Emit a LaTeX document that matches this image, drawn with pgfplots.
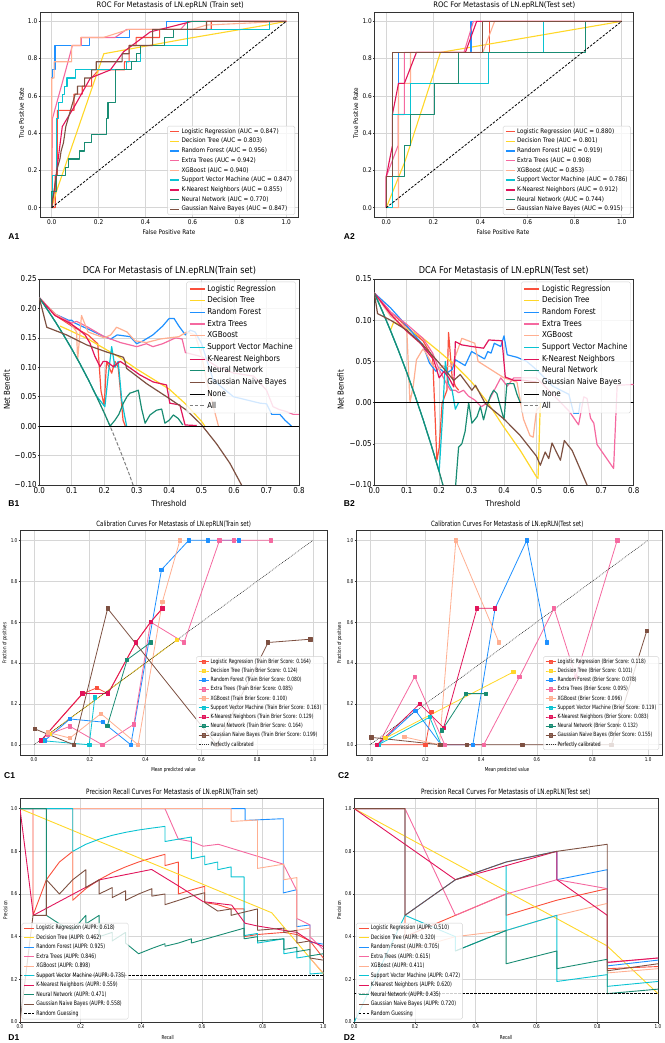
\documentclass[border=0pt]{standalone}
\usepackage{fontspec}
\usepackage{pgfplots}
\pgfplotsset{compat=1.18}
\newfontfamily\fA[FakeStretch=0.9]{DejaVu Sans}
\newfontfamily\fB[FakeStretch=0.87]{DejaVu Sans}
\newfontfamily\fC[FakeStretch=0.76]{DejaVu Sans}
\newfontfamily\fL{Liberation Sans}
\newcommand\tkA{\fA\fontsize{6.5}{7}\selectfont}
\newcommand\lgA{\fA\fontsize{6.3}{7}\selectfont}
\newcommand\tiA{\fA\fontsize{7.6}{8}\selectfont}
\newcommand\lbA{\fA\fontsize{6.3}{7}\selectfont}
\newcommand\tkB{\fB\fontsize{8.2}{9}\selectfont}
\newcommand\lgB{\fB\fontsize{8.2}{9}\selectfont}
\newcommand\tiB{\fB\fontsize{9.4}{10}\selectfont}
\newcommand\lbB{\fB\fontsize{8.1}{9}\selectfont}
\newcommand\tkC{\fC\fontsize{5.4}{6}\selectfont}
\newcommand\lgC{\fC\fontsize{5.85}{6}\selectfont}
\newcommand\lgD{\fC\fontsize{6.1}{6}\selectfont}
\newcommand\tiC{\fC\fontsize{7.2}{8}\selectfont}
\newcommand\tiD{\fC\fontsize{7.4}{8}\selectfont}
\newcommand\lbC{\fC\fontsize{5.4}{6}\selectfont}
\newcommand\pl{\fL\bfseries\fontsize{8.5}{9}\selectfont}
\definecolor{cLR}{RGB}{250,80,60}
\definecolor{cDT}{RGB}{255,215,40}
\definecolor{cRF}{RGB}{30,144,255}
\definecolor{cET}{RGB}{245,105,160}
\definecolor{cXGB}{RGB}{255,175,145}
\definecolor{cSVM}{RGB}{10,195,210}
\definecolor{cKNN}{RGB}{225,20,90}
\definecolor{cNN}{RGB}{25,140,115}
\definecolor{cGNB}{RGB}{125,80,65}
\pgfplotsset{
  mpl/.style={scale only axis, anchor=south west,
    axis line style={black!80,line width=0.5pt},
    grid=major, major grid style={black!16,line width=0.6pt},
    tick align=outside, major tick length=1.5pt, tick style={black!80,line width=0.45pt},
    xtick pos=left, ytick pos=left,
    xticklabel style={inner sep=0.8pt}, yticklabel style={inner sep=1pt},
    legend cell align=left,
    every axis plot/.append style={line join=round}},
  legA/.style={legend style={at={(1,0)},anchor=south east,xshift=-3pt,yshift=2pt,font=\lgA,
    draw=black!18,rounded corners=1.5pt,fill=white,fill opacity=0.8,text opacity=1,
    inner sep=2pt,row sep=2.6pt,column sep=1pt,nodes={inner sep=0.6pt,text height=4.6pt,text depth=1.3pt}},
    legend image code/.code={\draw[##1,line width=1.4pt] (0pt,0pt) -- (9pt,0pt);}},
  legB/.style={legend style={at={(1,1)},anchor=north east,xshift=-3pt,yshift=-2.7pt,font=\lgB,
    draw=black!18,rounded corners=1.5pt,fill=white,fill opacity=0.8,text opacity=1,
    inner sep=2.5pt,row sep=2.6pt,column sep=1.5pt,nodes={inner sep=0.6pt,text height=6.1pt,text depth=1.8pt}},
    legend image code/.code={\draw[##1] (0pt,0pt) -- (15pt,0pt);}},
  legC/.style={legend style={at={(1,0)},anchor=south east,xshift=-3pt,yshift=5pt,font=\lgC,
    draw=black!18,rounded corners=1.5pt,fill=white,fill opacity=0.8,text opacity=1,
    inner sep=2pt,row sep=2.8pt,column sep=1pt,nodes={inner sep=0.5pt,text height=4.2pt,text depth=1.2pt}},
    legend image code/.code={\draw[##1,mark repeat=2,mark phase=2] plot coordinates {(0pt,0pt) (5pt,0pt) (10pt,0pt)};}},
  legD/.style={legend style={at={(0,0)},anchor=south west,xshift=1.7pt,yshift=2.7pt,font=\lgD,
    draw=black!18,rounded corners=1.5pt,fill=white,fill opacity=0.8,text opacity=1,
    inner sep=2pt,row sep=3.1pt,column sep=1pt,nodes={inner sep=0.5pt,text height=4.2pt,text depth=1.2pt}},
    legend image code/.code={\draw[##1,line width=1.1pt] (0pt,0pt) -- (10pt,0pt);}},
}
\begin{document}
\begin{tikzpicture}[x=1pt,y=1pt]
\useasboundingbox (0,0) rectangle (664,1043);
% ================= A1 =================
\begin{axis}[mpl, at={(40pt,826pt)}, width=258pt, height=205pt,
  xmin=-0.05,xmax=1.05,ymin=-0.05,ymax=1.05,
  xtick={0,0.2,0.4,0.6,0.8,1}, xticklabels={0.0,0.2,0.4,0.6,0.8,1.0},
  ytick={0,0.2,0.4,0.6,0.8,1}, yticklabels={0.0,0.2,0.4,0.6,0.8,1.0},
  tick label style={font=\tkA}, legA, every axis plot/.append style={line width=1.1pt}]
\addplot[cLR] coordinates {(0,0)(0.015,0)(0.015,0.174)(0.024,0.174)(0.024,0.522)(0.095,0.522)(0.095,0.609)(0.13,0.609)(0.13,0.652)(0.17,0.652)(0.17,0.696)(0.2,0.739)(0.31,0.739)(0.31,0.783)(0.33,0.783)(0.33,0.87)(0.36,0.87)(0.36,0.913)(0.46,0.913)(0.46,0.957)(0.68,0.957)(0.68,1)(1,1)};
\addlegendentry{Logistic Regression (AUC = 0.847)}
\addplot[cDT] coordinates {(0,0)(0.02,0.087)(0.222,0.826)(0.576,0.907)(0.926,0.982)(1,1)};
\addlegendentry{Decision Tree (AUC = 0.803)}
\addplot[cRF] coordinates {(0,0)(0,0.696)(0.003,0.696)(0.003,0.739)(0.014,0.739)(0.014,0.87)(0.162,0.87)(0.162,0.913)(0.33,0.913)(0.33,0.957)(0.49,0.957)(0.49,1)(1,1)};
\addlegendentry{Random Forest (AUC = 0.956)}
\addplot[cET] coordinates {(0,0)(0.003,0.478)(0.041,0.652)(0.06,0.739)(0.088,0.87)(0.126,0.87)(0.126,0.913)(0.27,0.913)(0.32,0.957)(0.55,0.957)(0.58,1)(1,1)};
\addlegendentry{Extra Trees (AUC = 0.942)}
\addplot[cXGB] coordinates {(0,0)(0,0.696)(0.01,0.696)(0.01,0.783)(0.085,0.783)(0.085,0.87)(0.123,0.87)(0.123,0.913)(0.22,0.913)(0.33,0.957)(0.6,0.957)(0.66,0.98)(1,1)};
\addlegendentry{XGBoost (AUC = 0.940)}
\addplot[cSVM] coordinates {(0,0)(0.003,0)(0.003,0.174)(0.02,0.174)(0.02,0.478)(0.03,0.478)(0.03,0.565)(0.045,0.565)(0.045,0.609)(0.055,0.609)(0.055,0.652)(0.065,0.652)(0.065,0.696)(0.1,0.696)(0.1,0.739)(0.32,0.739)(0.32,0.783)(0.38,0.783)(0.38,0.87)(0.58,0.87)(0.58,0.957)(0.93,0.957)(0.93,1)(1,1)};
\addlegendentry{Support Vector Machine (AUC = 0.847)}
\addplot[cKNN] coordinates {(0,0)(0.01,0.087)(0.045,0.435)(0.1,0.55)(0.165,0.696)(0.25,0.739)(0.306,0.836)(0.42,0.943)(0.6,1)(1,1)};
\addlegendentry{K-Nearest Neighbors (AUC = 0.855)}
\addplot[cNN] coordinates {(0,0)(0,0.087)(0.02,0.087)(0.02,0.174)(0.06,0.174)(0.06,0.217)(0.07,0.217)(0.07,0.261)(0.12,0.261)(0.12,0.304)(0.14,0.304)(0.14,0.348)(0.17,0.348)(0.17,0.391)(0.235,0.391)(0.235,0.478)(0.24,0.478)(0.24,0.565)(0.27,0.565)(0.27,0.739)(0.34,0.739)(0.34,0.783)(0.36,0.783)(0.36,0.826)(0.38,0.826)(0.38,0.87)(0.48,0.87)(0.48,0.913)(0.52,0.913)(0.52,0.957)(0.58,0.957)(0.58,1)(1,1)};
\addlegendentry{Neural Network (AUC = 0.770)}
\addplot[cGNB] coordinates {(0,0)(0.003,0.043)(0.01,0.087)(0.02,0.174)(0.025,0.217)(0.035,0.261)(0.04,0.304)(0.05,0.348)(0.055,0.391)(0.06,0.435)(0.07,0.478)(0.08,0.522)(0.09,0.565)(0.1,0.609)(0.11,0.609)(0.11,0.652)(0.14,0.652)(0.14,0.696)(0.17,0.696)(0.17,0.739)(0.19,0.739)(0.19,0.783)(0.3,0.783)(0.3,0.826)(0.33,0.826)(0.33,0.87)(0.43,0.87)(0.43,0.957)(0.66,0.957)(0.66,1)(1,1)};
\addlegendentry{Gaussian Naive Bayes (AUC = 0.847)}
\addplot[black,line width=0.8pt,dash pattern=on 2.5pt off 1.5pt] coordinates {(0,0)(1,1)};
\end{axis}
% ================= A2 =================
\begin{axis}[mpl, at={(374.5pt,826pt)}, width=259pt, height=205pt,
  xmin=-0.05,xmax=1.05,ymin=-0.05,ymax=1.05,
  xtick={0,0.2,0.4,0.6,0.8,1}, xticklabels={0.0,0.2,0.4,0.6,0.8,1.0},
  ytick={0,0.2,0.4,0.6,0.8,1}, yticklabels={0.0,0.2,0.4,0.6,0.8,1.0},
  tick label style={font=\tkA}, legA, every axis plot/.append style={line width=1.1pt}]
\addplot[cLR] coordinates {(0,0)(0,0.167)(0.026,0.167)(0.026,0.833)(0.438,0.833)(0.438,1)(1,1)};
\addlegendentry{Logistic Regression (AUC = 0.880)}
\addplot[cDT] coordinates {(0,0)(0.08,0.25)(0.23,0.833)(1,1)};
\addlegendentry{Decision Tree (AUC = 0.801)}
\addplot[cRF] coordinates {(0,0)(0,0.167)(0.026,0.167)(0.026,0.5)(0.052,0.5)(0.052,0.833)(0.36,0.833)(0.36,1)(1,1)};
\addlegendentry{Random Forest (AUC = 0.919)}
\addplot[cET] coordinates {(0,0)(0,0.167)(0.05,0.333)(0.05,0.5)(0.077,0.5)(0.077,0.833)(0.33,0.833)(0.37,1)(1,1)};
\addlegendentry{Extra Trees (AUC = 0.908)}
\addplot[cXGB] coordinates {(0,0)(0.052,0)(0.052,0.667)(0.103,0.667)(0.103,0.833)(0.41,0.833)(0.46,1)(1,1)};
\addlegendentry{XGBoost (AUC = 0.853)}
\addplot[cSVM] coordinates {(0,0)(0.026,0)(0.026,0.5)(0.103,0.5)(0.103,0.667)(0.436,0.667)(0.436,0.833)(0.667,0.833)(0.667,1)(1,1)};
\addlegendentry{Support Vector Machine (AUC = 0.786)}
\addplot[cKNN] coordinates {(0,0)(0,0.167)(0.026,0.333)(0.026,0.5)(0.052,0.667)(0.077,0.667)(0.128,0.833)(0.336,0.833)(0.384,1)(1,1)};
\addlegendentry{K-Nearest Neighbors (AUC = 0.912)}
\addplot[cNN] coordinates {(0,0)(0,0.167)(0.077,0.167)(0.077,0.333)(0.103,0.333)(0.103,0.5)(0.205,0.5)(0.205,0.667)(0.308,0.667)(0.308,0.833)(0.846,0.833)(0.846,1)(1,1)};
\addlegendentry{Neural Network (AUC = 0.744)}
\addplot[cGNB] coordinates {(0,0)(0,0.167)(0.026,0.167)(0.026,0.833)(0.41,0.833)(0.41,1)(1,1)};
\addlegendentry{Gaussian Naive Bayes (AUC = 0.915)}
\addplot[black,line width=0.8pt,dash pattern=on 2.5pt off 1.5pt] coordinates {(0,0)(1,1)};
\end{axis}
% ================= B1 =================
\begin{axis}[mpl, at={(39.3pt,558pt)}, width=259.7pt, height=206pt,
  xmin=0,xmax=0.8,ymin=-0.1,ymax=0.25,
  xtick={0,0.1,0.2,0.3,0.4,0.5,0.6,0.7,0.8}, xticklabels={0.0,0.1,0.2,0.3,0.4,0.5,0.6,0.7,0.8},
  ytick={-0.1,-0.05,0,0.05,0.1,0.15,0.2,0.25}, yticklabels={−0.10,−0.05,0.00,0.05,0.10,0.15,0.20,0.25},
  tick label style={font=\tkB}, legB, every axis plot/.append style={line width=1.2pt}]
\addplot[forget plot,gray,line width=1pt,dash pattern=on 3.5pt off 1.8pt] coordinates {(0,0.218)(0.025,0.198)(0.05,0.1768)(0.075,0.1546)(0.1,0.1311)(0.125,0.1063)(0.15,0.080)(0.175,0.0521)(0.2,0.0225)(0.225,-0.009)(0.25,-0.0427)(0.275,-0.0786)(0.3,-0.117)};
\addplot[cLR] coordinates {(0,0.218)(0.05,0.188)(0.1,0.17)(0.15,0.155)(0.18,0.14)(0.19,0.06)(0.2,0.035)(0.207,0.109)(0.215,0.1)(0.223,0.09)(0.233,0.11)(0.243,0.1)(0.25,0.06)(0.258,0.01)(0.265,0.0)};
\addlegendentry{Logistic Regression}
\addplot[cDT] coordinates {(0.064,0.17)(0.1,0.161)(0.15,0.148)(0.2,0.132)(0.25,0.116)(0.3,0.097)(0.35,0.08)(0.4,0.063)(0.45,0.038)(0.5,0.008)(0.51,0.0)};
\addlegendentry{Decision Tree}
\addplot[cRF] coordinates {(0,0.218)(0.05,0.19)(0.09,0.18)(0.1,0.18)(0.11,0.175)(0.15,0.165)(0.2,0.152)(0.22,0.148)(0.24,0.155)(0.28,0.152)(0.3,0.14)(0.32,0.145)(0.35,0.155)(0.38,0.17)(0.4,0.183)(0.415,0.183)(0.43,0.17)(0.45,0.155)(0.465,0.163)(0.48,0.16)(0.5,0.14)(0.536,0.078)(0.598,0.05)(0.68,0.039)(0.7,0.038)(0.716,0.02)(0.741,0.02)(0.757,0.01)(0.777,0.0)};
\addlegendentry{Random Forest}
\addplot[cET] coordinates {(0,0.218)(0.05,0.19)(0.1,0.175)(0.115,0.178)(0.15,0.168)(0.2,0.152)(0.25,0.142)(0.3,0.135)(0.33,0.14)(0.35,0.135)(0.38,0.14)(0.4,0.145)(0.42,0.15)(0.44,0.148)(0.45,0.125)(0.5,0.118)(0.55,0.1)(0.6,0.09)(0.66,0.085)(0.7,0.061)(0.72,0.033)(0.74,0.028)(0.76,0.025)(0.782,0.02)(0.8,0.02)};
\addlegendentry{Extra Trees}
\addplot[cXGB] coordinates {(0,0.218)(0.05,0.19)(0.1,0.172)(0.115,0.16)(0.118,0.112)(0.13,0.188)(0.15,0.16)(0.2,0.15)(0.22,0.155)(0.238,0.168)(0.25,0.165)(0.27,0.16)(0.295,0.145)(0.33,0.142)(0.372,0.148)(0.4,0.15)(0.43,0.152)(0.454,0.16)(0.48,0.155)(0.5,0.12)(0.516,0.075)(0.552,0.0)};
\addlegendentry{XGBoost}
\addplot[cSVM] coordinates {(0,0.218)(0.025,0.198)(0.05,0.1768)(0.075,0.1546)(0.1,0.1311)(0.125,0.1063)(0.15,0.080)(0.175,0.0521)(0.202,0.033)(0.213,0.09)(0.223,0.135)(0.233,0.1)(0.243,0.11)(0.254,0.044)(0.262,0.02)(0.269,0.0)};
\addlegendentry{Support Vector Machine}
\addplot[cKNN] coordinates {(0,0.218)(0.048,0.188)(0.094,0.175)(0.12,0.165)(0.141,0.155)(0.156,0.141)(0.171,0.119)(0.187,0.101)(0.197,0.11)(0.207,0.11)(0.228,0.101)(0.249,0.11)(0.274,0.101)(0.31,0.087)(0.351,0.075)(0.392,0.07)(0.402,0.039)(0.433,0.036)(0.449,0.002)(0.485,0.001)};
\addlegendentry{K-Nearest Neighbors}
\addplot[cNN] coordinates {(0,0.218)(0.025,0.198)(0.05,0.1768)(0.075,0.1546)(0.1,0.1311)(0.125,0.1063)(0.15,0.080)(0.175,0.0521)(0.2,0.0225)(0.218,0.0)(0.233,0.01)(0.245,0.02)(0.259,0.039)(0.27,0.05)(0.279,0.056)(0.29,0.058)(0.305,0.061)(0.315,0.03)(0.326,0.005)(0.341,0.019)(0.361,0.027)(0.377,0.029)(0.387,0.005)(0.4,0.01)(0.413,0.019)(0.428,0.013)(0.442,0.002)};
\addlegendentry{Neural Network}
\addplot[cGNB] coordinates {(0,0.218)(0.023,0.168)(0.084,0.155)(0.146,0.138)(0.207,0.126)(0.259,0.117)(0.264,0.11)(0.269,0.098)(0.331,0.072)(0.392,0.05)(0.454,0.027)(0.5,0.002)(0.546,-0.03)(0.587,-0.063)(0.623,-0.1)(0.63,-0.107)};
\addlegendentry{Gaussian Naive Bayes}
\addplot[black,line width=1.2pt] coordinates {(0,0)(0.8,0)};
\addlegendentry{None}
\addlegendimage{gray,line width=1pt,dash pattern=on 3.5pt off 1.8pt}
\addlegendentry{All}
\end{axis}
% ================= B2 =================
\begin{axis}[mpl, at={(374.3pt,558pt)}, width=259.4pt, height=206pt,
  xmin=0,xmax=0.8,ymin=-0.1,ymax=0.15,
  xtick={0,0.1,0.2,0.3,0.4,0.5,0.6,0.7,0.8}, xticklabels={0.0,0.1,0.2,0.3,0.4,0.5,0.6,0.7,0.8},
  ytick={-0.1,-0.05,0,0.05,0.1,0.15}, yticklabels={−0.10,−0.05,0.00,0.05,0.10,0.15},
  tick label style={font=\tkB}, legB, every axis plot/.append style={line width=1.2pt}]
\addplot[forget plot,gray,line width=1pt,dash pattern=on 3.5pt off 1.8pt] coordinates {(0,0.133)(0.025,0.1108)(0.05,0.0874)(0.075,0.0627)(0.1,0.0367)(0.125,0.0091)(0.15,-0.020)(0.175,-0.0509)(0.2,-0.0838)(0.225,-0.1187)};
\addplot[cLR] coordinates {(0,0.133)(0.05,0.11)(0.1,0.092)(0.15,0.075)(0.18,0.055)(0.193,-0.07)(0.2,-0.055)(0.209,-0.001)(0.224,0.015)(0.229,0.085)(0.24,0.031)(0.25,0.02)(0.26,0.015)};
\addlegendentry{Logistic Regression}
\addplot[cDT] coordinates {(0.05,0.088)(0.06,0.098)(0.1,0.09)(0.15,0.078)(0.2,0.062)(0.25,0.045)(0.3,0.025)(0.35,0.0)(0.4,-0.03)(0.45,-0.058)(0.5,-0.09)(0.505,-0.092)(0.512,0.0)};
\addlegendentry{Decision Tree}
\addplot[cRF] coordinates {(0,0.133)(0.05,0.115)(0.1,0.093)(0.15,0.07)(0.17,0.048)(0.19,0.038)(0.2,0.042)(0.22,0.035)(0.24,0.04)(0.25,0.052)(0.28,0.045)(0.3,0.062)(0.34,0.053)(0.35,0.062)(0.36,0.06)(0.37,0.072)(0.39,0.068)(0.4,0.081)(0.41,0.058)(0.44,0.055)(0.47,0.05)(0.5,0.04)(0.55,0.02)(0.6,0.01)(0.615,-0.013)(0.63,-0.013)(0.635,0.0)};
\addlegendentry{Random Forest}
\addplot[cET] coordinates {(0,0.133)(0.05,0.11)(0.1,0.095)(0.15,0.078)(0.18,0.06)(0.2,0.04)(0.22,0.025)(0.235,0.015)(0.25,0.015)(0.26,0.012)(0.275,0.015)(0.29,0.008)(0.31,0.003)(0.33,-0.005)(0.35,0.0)(0.37,0.015)(0.39,0.03)(0.41,0.02)(0.43,0.03)(0.5,0.03)(0.55,0.01)(0.6,-0.01)(0.63,-0.027)(0.646,0.007)(0.656,0.005)(0.667,-0.019)(0.677,-0.025)(0.687,-0.051)(0.738,-0.08)(0.749,0.021)(0.8,0.022)};
\addlegendentry{Extra Trees}
\addplot[cXGB] coordinates {(0,0.133)(0.05,0.105)(0.1,0.09)(0.11,0.0)(0.12,0.02)(0.13,0.052)(0.15,0.065)(0.16,0.06)(0.18,0.045)(0.2,0.04)(0.21,0.045)(0.22,0.043)(0.24,0.045)(0.27,0.078)(0.31,0.072)(0.32,0.05)(0.4,0.03)(0.44,0.025)(0.46,-0.02)(0.47,-0.03)(0.48,-0.04)(0.49,-0.042)(0.5,-0.01)(0.51,-0.005)};
\addlegendentry{XGBoost}
\addplot[cSVM] coordinates {(0,0.133)(0.025,0.1108)(0.05,0.0874)(0.075,0.0627)(0.1,0.0367)(0.125,0.0091)(0.15,-0.020)(0.175,-0.0509)(0.2,-0.0838)(0.21,-0.02)(0.219,0.05)(0.229,0.023)(0.24,0.015)(0.25,-0.008)(0.26,0.0)};
\addlegendentry{Support Vector Machine}
\addplot[cKNN] coordinates {(0,0.133)(0.049,0.108)(0.096,0.088)(0.142,0.072)(0.183,0.052)(0.2,0.03)(0.215,0.038)(0.23,0.03)(0.245,0.019)(0.25,0.074)(0.27,0.07)(0.301,0.068)(0.337,0.066)(0.353,0.076)(0.394,0.075)(0.404,0.031)(0.43,0.027)(0.46,0.027)(0.5,0.025)};
\addlegendentry{K-Nearest Neighbors}
\addplot[cNN] coordinates {(0,0.133)(0.025,0.1108)(0.05,0.0874)(0.075,0.0627)(0.1,0.0367)(0.125,0.0091)(0.15,-0.020)(0.175,-0.0509)(0.2,-0.0838)(0.225,-0.1187)(0.245,-0.13)(0.26,-0.054)(0.27,-0.05)(0.28,-0.035)(0.291,0.0)(0.301,-0.025)(0.317,-0.017)(0.327,-0.005)(0.337,-0.021)(0.347,-0.005)(0.358,0.008)(0.368,0.015)(0.378,0.011)(0.389,-0.005)(0.4,-0.021)(0.409,0.023)(0.43,0.023)(0.44,0.01)(0.45,0.0)};
\addlegendentry{Neural Network}
\addplot[cGNB] coordinates {(0,0.133)(0.01,0.108)(0.05,0.1)(0.1,0.088)(0.15,0.07)(0.2,0.048)(0.245,0.027)(0.265,0.034)(0.301,0.015)(0.312,0.021)(0.342,-0.001)(0.4,-0.02)(0.45,-0.04)(0.5,-0.065)(0.512,-0.076)(0.527,-0.06)(0.538,-0.068)(0.548,-0.049)(0.574,-0.07)(0.586,-0.046)(0.61,-0.058)(0.656,-0.1)(0.66,-0.104)};
\addlegendentry{Gaussian Naive Bayes}
\addplot[black,line width=1.2pt] coordinates {(0,0)(0.8,0)};
\addlegendentry{None}
\addlegendimage{gray,line width=1pt,dash pattern=on 3.5pt off 1.8pt}
\addlegendentry{All}
\end{axis}
% ================= C1 =================
\begin{axis}[mpl, at={(20pt,288pt)}, width=307pt, height=225pt,
  xmin=-0.05,xmax=1.05,ymin=-0.05,ymax=1.05,
  xtick={0,0.2,0.4,0.6,0.8,1}, xticklabels={0.0,0.2,0.4,0.6,0.8,1.0},
  ytick={0,0.2,0.4,0.6,0.8,1}, yticklabels={0.0,0.2,0.4,0.6,0.8,1.0},
  tick label style={font=\tkC}, legC,
  every axis plot/.append style={line width=0.8pt,mark=square*,mark size=1.7pt,mark options={solid}}]
\addplot[cLR] coordinates {(0.025,0.02)(0.175,0.25)(0.225,0.278)(0.265,0.25)(0.365,0.5)(0.418,0.6)(0.46,0.667)};
\addlegendentry{Logistic Regression (Train Brier Score: 0.164)}
\addplot[cDT] coordinates {(0.055,0.054)(0.512,0.512)};
\addlegendentry{Decision Tree (Train Brier Score: 0.124)}
\addplot[cRF] coordinates {(0.039,0.021)(0.129,0.126)(0.246,0.111)(0.347,0.0)(0.457,0.856)(0.555,1.0)(0.624,1.0)(0.734,1.0)};
\addlegendentry{Random Forest (Train Brier Score: 0.080)}
\addplot[cET] coordinates {(0.05,0.05)(0.129,0.09)(0.245,0.0)(0.358,0.1)(0.418,0.6)(0.538,0.5)(0.665,1.0)(0.717,1.0)(0.848,1.0)};
\addlegendentry{Extra Trees (Train Brier Score: 0.085)}
\addplot[cXGB] coordinates {(0.05,0.06)(0.129,0.033)(0.24,0.152)(0.373,0.0)(0.46,0.698)(0.523,1.0)};
\addlegendentry{XGBoost (Train Brier Score: 0.100)}
\addplot[cSVM] coordinates {(0.03,0.02)(0.198,0.0)(0.218,0.232)};
\addlegendentry{Support Vector Machine (Train Brier Score: 0.163)}
\addplot[cKNN] coordinates {(0.025,0.021)(0.174,0.251)(0.266,0.251)(0.365,0.5)(0.418,0.6)(0.46,0.666)};
\addlegendentry{K-Nearest Neighbors (Train Brier Score: 0.129)}
\addplot[cNN] coordinates {(0.263,0.093)(0.334,0.416)(0.418,0.5)};
\addlegendentry{Neural Network (Train Brier Score: 0.164)}
\addplot[cGNB] coordinates {(0.004,0.077)(0.143,0.0)(0.264,0.666)(0.655,0.0)(0.839,0.5)(0.99,0.516)};
\addlegendentry{Gaussian Naive Bayes (Train Brier Score: 0.199)}
\addplot[black!80,no marks,line width=0.6pt,dash pattern=on 0.8pt off 1pt] coordinates {(0,0)(1,1)};
\addlegendentry{Perfectly calibrated}
\end{axis}
% ================= C2 =================
\begin{axis}[mpl, at={(356pt,288pt)}, width=306pt, height=225pt,
  xmin=-0.05,xmax=1.05,ymin=-0.05,ymax=1.05,
  xtick={0,0.2,0.4,0.6,0.8,1}, xticklabels={0.0,0.2,0.4,0.6,0.8,1.0},
  ytick={0,0.2,0.4,0.6,0.8,1}, yticklabels={0.0,0.2,0.4,0.6,0.8,1.0},
  tick label style={font=\tkC}, legC,
  every axis plot/.append style={line width=0.8pt,mark=square*,mark size=1.7pt,mark options={solid}}]
\addplot[cLR] coordinates {(0.03,0.0)(0.2,0.0)(0.221,0.16)};
\addlegendentry{Logistic Regression (Brier Score: 0.118)}
\addplot[cDT] coordinates {(0.056,0.033)(0.516,0.356)};
\addlegendentry{Decision Tree (Brier Score: 0.101)}
\addplot[cRF] coordinates {(0.03,0.0)(0.164,0.167)(0.256,0.0)(0.37,0.0)(0.45,0.667)(0.564,1.0)(0.636,0.5)};
\addlegendentry{Random Forest (Brier Score: 0.078)}
\addplot[cET] coordinates {(0.03,0.0)(0.161,0.333)(0.269,0.0)(0.409,0.0)(0.538,0.333)(0.662,0.667)(0.74,0.333)(0.889,1.0)};
\addlegendentry{Extra Trees (Brier Score: 0.095)}
\addplot[cXGB] coordinates {(0.124,0.038)(0.25,0.0)(0.309,1.0)(0.464,0.5)};
\addlegendentry{XGBoost (Brier Score: 0.096)}
\addplot[cSVM] coordinates {(0.03,0.0)(0.215,0.135)(0.256,0.0)};
\addlegendentry{Support Vector Machine (Brier Score: 0.119)}
\addplot[cKNN] coordinates {(0.026,0.0)(0.179,0.2)(0.265,0.083)(0.385,0.667)(0.45,0.667)};
\addlegendentry{K-Nearest Neighbors (Brier Score: 0.083)}
\addplot[cNN] coordinates {(0.259,0.07)(0.345,0.25)(0.417,0.25)};
\addlegendentry{Neural Network (Brier Score: 0.132)}
\addplot[cGNB] coordinates {(0.006,0.036)(0.253,0.0)(0.349,0.0)(0.548,0.0)(0.868,0.0)(0.995,0.556)};
\addlegendentry{Gaussian Naive Bayes (Brier Score: 0.155)}
\addplot[black!80,no marks,line width=0.6pt,dash pattern=on 0.8pt off 1pt] coordinates {(0,0)(1,1)};
\addlegendentry{Perfectly calibrated}
\end{axis}
% ================= D1 =================
\begin{axis}[mpl, at={(20pt,21pt)}, width=303.3pt, height=224pt,
  xmin=0,xmax=1,ymin=0,ymax=1.05,
  xtick={0,0.2,0.4,0.6,0.8,1}, xticklabels={0.0,0.2,0.4,0.6,0.8,1.0},
  ytick={0,0.2,0.4,0.6,0.8,1}, yticklabels={0.0,0.2,0.4,0.6,0.8,1.0},
  tick label style={font=\tkC}, legD, every axis plot/.append style={line width=0.9pt}]
\addplot[cLR] coordinates {(0,1)(0.043,1)(0.043,0.5)(0.087,0.667)(0.13,0.75)(0.174,0.8)(0.174,0.571)(0.217,0.625)(0.261,0.667)(0.304,0.7)(0.348,0.727)(0.391,0.75)(0.435,0.769)(0.478,0.786)(0.478,0.733)(0.522,0.75)(0.522,0.6)(0.565,0.619)(0.609,0.636)(0.609,0.56)(0.652,0.55)(0.696,0.53)(0.739,0.53)(0.739,0.4)(0.783,0.41)(0.87,0.42)(0.913,0.41)(0.956,0.38)(1,0.3)};
\addlegendentry{Logistic Regression (AUPR: 0.618)}
\addplot[cDT] coordinates {(0,1)(0.83,0.512)(1,0.226)};
\addlegendentry{Decision Tree (AUPR: 0.462)}
\addplot[cRF] coordinates {(0,1)(0.742,1)(0.742,0.945)(0.868,0.953)(0.868,0.605)(0.912,0.62)(0.912,0.447)(0.956,0.455)(0.956,0.375)(1,0.365)};
\addlegendentry{Random Forest (AUPR: 0.925)}
\addplot[cET] coordinates {(0,1)(0.478,1)(0.522,0.857)(0.565,0.846)(0.604,0.824)(0.654,0.833)(0.868,0.74)(0.912,0.618)(0.912,0.486)(0.956,0.455)(0.956,0.4)(1,0.34)};
\addlegendentry{Extra Trees (AUPR: 0.846)}
\addplot[cXGB] coordinates {(0,1)(0.174,1)(0.174,0.57)(0.174,1)(0.696,1)(0.696,0.94)(0.783,0.947)(0.783,0.72)(0.87,0.74)(0.87,0.667)(0.913,0.677)(0.913,0.43)(0.956,0.44)(0.956,0.3)(1,0.23)};
\addlegendentry{XGBoost (AUPR: 0.898)}
\addplot[cSVM] coordinates {(0,1)(0.174,1)(0.174,0.8)(0.217,0.833)(0.261,0.857)(0.304,0.875)(0.348,0.889)(0.391,0.9)(0.435,0.909)(0.478,0.917)(0.478,0.846)(0.522,0.857)(0.565,0.867)(0.565,0.765)(0.609,0.778)(0.609,0.737)(0.652,0.75)(0.652,0.714)(0.696,0.727)(0.696,0.68)(0.739,0.68)(0.739,0.405)(0.783,0.415)(0.783,0.37)(0.826,0.38)(0.87,0.39)(0.87,0.32)(0.913,0.33)(0.913,0.3)(0.956,0.31)(0.956,0.225)(1,0.23)};
\addlegendentry{Support Vector Machine (AUPR: 0.735)}
\addplot[cKNN] coordinates {(0,1)(0.044,0.5)(0.264,0.667)(0.434,0.715)(0.527,0.634)(0.604,0.564)(0.652,0.556)(0.698,0.548)(0.742,0.463)(0.783,0.45)(0.87,0.43)(0.913,0.42)(0.956,0.38)(1,0.354)};
\addlegendentry{K-Nearest Neighbors (AUPR: 0.559)}
\addplot[cNN] coordinates {(0,1)(0.087,1)(0.087,0.5)(0.13,0.46)(0.174,0.43)(0.217,0.5)(0.217,0.46)(0.261,0.5)(0.261,0.4)(0.304,0.42)(0.304,0.38)(0.348,0.42)(0.348,0.37)(0.391,0.32)(0.435,0.345)(0.478,0.367)(0.478,0.355)(0.522,0.37)(0.565,0.39)(0.565,0.37)(0.652,0.405)(0.739,0.44)(0.739,0.39)(0.783,0.4)(0.783,0.38)(0.87,0.39)(0.87,0.34)(0.913,0.35)(0.913,0.33)(0.956,0.34)(0.956,0.31)(1,0.32)};
\addlegendentry{Neural Network (AUPR: 0.471)}
\addplot[cGNB] coordinates {(0,0)(0.043,0.5)(0.087,0.5)(0.087,0.667)(0.13,0.6)(0.174,0.667)(0.217,0.714)(0.217,0.63)(0.261,0.667)(0.261,0.6)(0.304,0.63)(0.304,0.583)(0.348,0.615)(0.348,0.57)(0.391,0.6)(0.435,0.625)(0.435,0.59)(0.478,0.6)(0.478,0.55)(0.522,0.57)(0.565,0.59)(0.609,0.606)(0.609,0.56)(0.652,0.52)(0.696,0.53)(0.696,0.5)(0.739,0.515)(0.783,0.53)(0.783,0.43)(0.87,0.44)(0.87,0.42)(0.913,0.43)(0.913,0.37)(0.956,0.38)(0.956,0.3)(1,0.29)};
\addlegendentry{Gaussian Naive Bayes (AUPR: 0.558)}
\addplot[black,line width=0.8pt,dash pattern=on 2.5pt off 1.5pt] coordinates {(0,0.22)(1,0.22)};
\addlegendentry{Random Guessing}
\end{axis}
% ================= D2 =================
\begin{axis}[mpl, at={(354.3pt,21pt)}, width=303.7pt, height=224pt,
  xmin=0,xmax=1,ymin=0,ymax=1.05,
  xtick={0,0.2,0.4,0.6,0.8,1}, xticklabels={0.0,0.2,0.4,0.6,0.8,1.0},
  ytick={0,0.2,0.4,0.6,0.8,1}, yticklabels={0.0,0.2,0.4,0.6,0.8,1.0},
  tick label style={font=\tkC}, legD, every axis plot/.append style={line width=0.9pt}]
\addplot[cLR] coordinates {(0,1)(0.167,1)(0.167,0.4)(0.333,0.5)(0.5,0.6)(0.5,0.5)(0.667,0.571)(0.833,0.625)(0.833,0.25)(1,0.26)};
\addlegendentry{Logistic Regression (AUPR: 0.510)}
\addplot[cDT] coordinates {(0,1)(0.832,0.357)(1,0.133)};
\addlegendentry{Decision Tree (AUPR: 0.320)}
\addplot[cRF] coordinates {(0,1)(0.167,1)(0.167,0.5)(0.333,0.667)(0.5,0.75)(0.667,0.8)(0.667,0.667)(0.833,0.714)(0.833,0.263)(1,0.29)};
\addlegendentry{Random Forest (AUPR: 0.705)}
\addplot[cET] coordinates {(0,1)(0.167,1)(0.333,0.5)(0.5,0.6)(0.667,0.667)(0.833,0.625)(0.833,0.278)(1,0.3)};
\addlegendentry{Extra Trees (AUPR: 0.615)}
\addplot[cXGB] coordinates {(0,1)(0.167,1)(0.167,0.333)(0.333,0.4)(0.5,0.429)(0.667,0.5)(0.833,0.556)(0.833,0.23)(1,0.25)};
\addlegendentry{XGBoost (AUPR: 0.411)}
\addplot[cSVM] coordinates {(0,0)(0.167,0.5)(0.333,0.4)(0.333,0.333)(0.5,0.429)(0.5,0.733)(0.5,0.429)(0.667,0.5)(0.667,0.19)(0.833,0.222)(0.833,0.167)(1,0.19)};
\addlegendentry{Support Vector Machine (AUPR: 0.472)}
\addplot[cKNN] coordinates {(0,1)(0.333,0.667)(0.5,0.733)(0.667,0.8)(0.667,0.667)(0.833,0.5)(0.833,0.28)(1,0.3)};
\addlegendentry{K-Nearest Neighbors (AUPR: 0.620)}
\addplot[cNN] coordinates {(0.333,0.333)(0.5,0.429)(0.5,0.273)(0.667,0.333)(0.667,0.25)(0.833,0.294)(0.833,0.133)(1,0.154)};
\addlegendentry{Neural Network (AUPR: 0.435)}
\addplot[cGNB] coordinates {(0,1)(0.167,1)(0.167,0.5)(0.333,0.667)(0.5,0.75)(0.667,0.8)(0.833,0.833)(0.833,0.24)(1,0.273)};
\addlegendentry{Gaussian Naive Bayes (AUPR: 0.720)}
\addplot[black,line width=0.8pt,dash pattern=on 2.5pt off 1.5pt] coordinates {(0,0.133)(1,0.133)};
\addlegendentry{Random Guessing}
\end{axis}
% ================= texts =================
\node[anchor=base,font=\tiA] at (170.3,1035) {ROC For Metastasis of LN.epRLN (Train set)};
\node[anchor=base,font=\tiA] at (504.3,1035) {ROC For Metastasis of LN.epRLN(Test set)};
\node[anchor=base,font=\lbA] at (169,808.5) {False Positive Rate};
\node[anchor=base,font=\lbA] at (503,808.5) {False Positive Rate};
\node[anchor=base,font=\lbA,rotate=90] at (24,930) {True Positive Rate};
\node[anchor=base,font=\lbA,rotate=90] at (358,930) {True Positive Rate};
\node[anchor=base west,font=\pl,inner sep=0pt] at (8.3,803) {A1};
\node[anchor=base west,font=\pl,inner sep=0pt] at (343.7,803) {A2};
\node[anchor=base,font=\tiB] at (169.5,769) {DCA For Metastasis of LN.epRLN(Train set)};
\node[anchor=base,font=\tiB] at (503.7,769) {DCA For Metastasis of LN.epRLN(Test set)};
\node[anchor=base,font=\lbB] at (169,536.3) {Threshold};
\node[anchor=base,font=\lbB] at (503,536.3) {Threshold};
\node[anchor=base,font=\lbB,rotate=90] at (10,653) {Net Benefit};
\node[anchor=base,font=\lbB,rotate=90] at (343.7,653) {Net Benefit};
\node[anchor=base west,font=\pl,inner sep=0pt] at (8.3,536.3) {B1};
\node[anchor=base west,font=\pl,inner sep=0pt] at (343.7,536.3) {B2};
\node[anchor=base,font=\tiC] at (173.7,516) {Calibration Curves For Metastasis of LN.epRLN(Train set)};
\node[anchor=base,font=\tiC] at (507.3,516) {Calibration Curves For Metastasis of LN.epRLN(Test set)};
\node[anchor=base,font=\lbC] at (173.5,271) {Mean predicted value};
\node[anchor=base,font=\lbC] at (507,271) {Mean predicted value};
\node[anchor=base,font=\lbC,rotate=90] at (6.5,400) {Fraction of positives};
\node[anchor=base,font=\lbC,rotate=90] at (341,400) {Fraction of positives};
\node[anchor=base west,font=\pl,inner sep=0pt] at (4,264) {C1};
\node[anchor=base west,font=\pl,inner sep=0pt] at (338,264) {C2};
\node[anchor=base,font=\tiD] at (172.2,248.5) {Precision Recall Curves For Metastasis of LN.epRLN(Train set)};
\node[anchor=base,font=\tiD] at (505.8,248.5) {Precision Recall Curves For Metastasis of LN.epRLN(Test set)};
\node[anchor=base,font=\lbC] at (167.7,3) {Recall};
\node[anchor=base,font=\lbC] at (506,3) {Recall};
\node[anchor=base,font=\lbC,rotate=90] at (7.3,133) {Precision};
\node[anchor=base,font=\lbC,rotate=90] at (341,133) {Precision};
\node[anchor=base west,font=\pl,inner sep=0pt] at (8.3,2.5) {D1};
\node[anchor=base west,font=\pl,inner sep=0pt] at (343.7,2.5) {D2};
\end{tikzpicture}
\end{document}
